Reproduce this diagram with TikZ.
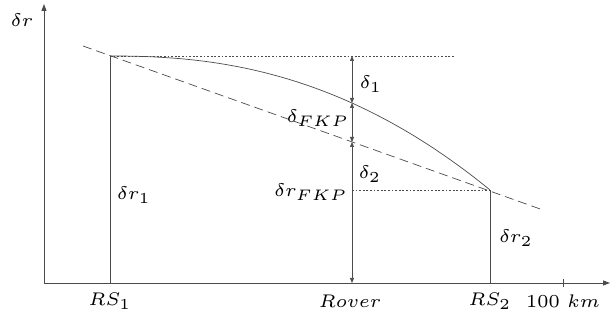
\documentclass[tikz,border=0pt]{standalone}
\usepackage{graphicx}
\usetikzlibrary{arrows.meta}
\definecolor{linecol}{RGB}{75,75,75}
\newcommand{\lblmath}[1]{\scalebox{3.05}{\fontsize{6}{7}\selectfont$#1$}}
\tikzset{
  axis/.style={draw=linecol, line width=0.9pt, -{Triangle[length=7pt,width=5pt]}},
  thin line/.style={draw=linecol, line width=0.7pt},
  dimline/.style={draw=linecol, line width=0.7pt, {Triangle[length=5pt,width=4pt]}-{Triangle[length=5pt,width=4pt]}},
  dashline/.style={draw=linecol, line width=0.7pt, dash pattern=on 9pt off 5pt},
  dotline/.style={draw=linecol, line width=0.6pt, dash pattern=on 1.8pt off 1.8pt},
  lbl/.style={inner sep=0pt},
}
\begin{document}
\begin{tikzpicture}[x=1pt,y=-1pt]
\useasboundingbox (0,0) rectangle (616,320);
% coordinates
\coordinate (O) at (44,283);
\coordinate (Ytop) at (44,4);
\coordinate (Xend) at (610,283);
\coordinate (RS1top) at (110,56);
\coordinate (RS1bot) at (110,283);
\coordinate (RS2top) at (490,190);
\coordinate (RS2bot) at (490,283);
\coordinate (Rtop) at (352,56);
\coordinate (Rm1) at (352,103);
\coordinate (Rm2) at (352,142);
\coordinate (Rbot) at (352,283);
\coordinate (DotEnd) at (455,56);
\coordinate (DotStart) at (352,190);
\coordinate (DashA) at (83,46);
\coordinate (DashB) at (543,210);
\coordinate (TickT) at (563,279);
\coordinate (TickB) at (563,287);
% axes
\draw[axis] (O) -- (Ytop);
\draw[axis] (O) -- (Xend);
\draw[thin line] (TickT) -- (TickB);
% verticals
\draw[thin line] (RS1bot) -- (RS1top);
\draw[thin line] (RS2bot) -- (RS2top);
% dotted
\draw[dotline] (RS1top) -- (DotEnd);
\draw[dotline] (DotStart) -- (RS2top);
% dashed
\draw[dashline] (DashA) -- (DashB);
% curve
\draw[thin line] plot[domain=110.01:490, samples=80] (\x, {56+134*pow((\x-110)/380,2.32)});
% rover dimension arrows
\draw[dimline] (Rtop) -- (Rm1);
\draw[dimline] (Rm1) -- (Rm2);
\draw[dimline] (Rm2) -- (Rbot);
% labels
\node[lbl] (ldr) at (22,20) {\lblmath{\delta r}};
\node[lbl] (ld1) at (371,84) {\lblmath{\delta_1}};
\node[lbl] (ldfkp) at (318,118) {\lblmath{\delta_{FKP}}};
\node[lbl] (ld2) at (370,174) {\lblmath{\delta_2}};
\node[lbl] (ldrfkp) at (311,192) {\lblmath{\delta r_{FKP}}};
\node[lbl] (ldr1) at (134,195) {\lblmath{\delta r_1}};
\node[lbl] (ldr2) at (516,238) {\lblmath{\delta r_2}};
\node[lbl] (lrs1) at (110,301) {\lblmath{RS_1}};
\node[lbl] (lrov) at (350,301) {\lblmath{Rover}};
\node[lbl] (lrs2) at (490,301) {\lblmath{RS_2}};
\node[lbl] (lkm) at (563,301) {\lblmath{100\ km}};
\end{tikzpicture}
\end{document}
